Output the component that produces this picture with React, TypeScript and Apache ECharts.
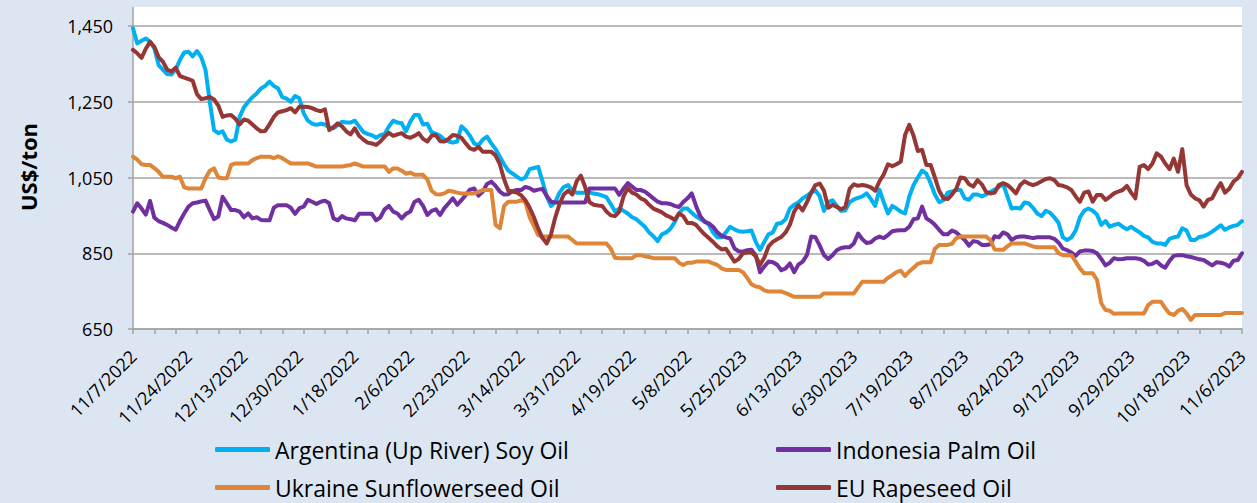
import React, { useEffect, useRef } from "react";
import * as echarts from "echarts";

// Business-day categories from 11/7/2022 to 11/6/2023
const categories: string[] = [];
{
  const d = new Date(2022, 10, 7);
  while (categories.length < 261) {
    const wd = d.getDay();
    if (wd !== 0 && wd !== 6) categories.push(`${d.getMonth() + 1}/${d.getDate()}/${d.getFullYear()}`);
    d.setDate(d.getDate() + 1);
  }
}

const tickLabels = [
  "11/7/2022", "11/24/2022", "12/13/2022", "12/30/2022", "1/18/2022", "2/6/2022", "2/23/2022",
  "3/14/2022", "3/31/2022", "4/19/2022", "5/8/2022", "5/25/2023", "6/13/2023", "6/30/2023",
  "7/19/2023", "8/7/2023", "8/24/2023", "9/12/2023", "9/29/2023", "10/18/2023", "11/6/2023",
];

const seriesNames = [
  "Argentina (Up River) Soy Oil",
  "Indonesia Palm Oil",
  "Ukraine Sunflowerseed Oil",
  "EU Rapeseed Oil",
];

const argentina = [
  1444, 1404, 1411, 1417, 1409, 1391, 1347, 1335, 1323, 1322,
  1335, 1360, 1380, 1382, 1370, 1384, 1368, 1334, 1250, 1175,
  1167, 1172, 1150, 1145, 1150, 1210, 1235, 1250, 1262, 1272,
  1285, 1292, 1303, 1292, 1285, 1262, 1258, 1250, 1265, 1259,
  1220, 1200, 1192, 1189, 1192, 1190, 1182, 1180, 1188, 1197,
  1195, 1195, 1200, 1185, 1170, 1165, 1162, 1155, 1162, 1165,
  1185, 1200, 1195, 1193, 1172, 1197, 1215, 1215, 1190, 1192,
  1170, 1165, 1160, 1150, 1145, 1142, 1145, 1185, 1175, 1160,
  1140, 1135, 1150, 1158, 1140, 1125, 1105, 1085, 1068, 1060,
  1052, 1045, 1050, 1072, 1075, 1078, 1040, 1000, 975, 985,
  1010, 1025, 1030, 1015, 1010, 1010, 1010, 1010, 1008, 1006,
  1002, 998, 980, 960, 968, 962, 955, 945, 940, 930,
  920, 905, 895, 882, 900, 905, 915, 932, 955, 968,
  968, 957, 947, 940, 935, 925, 905, 892, 892, 905,
  920, 913, 908, 907, 908, 910, 880, 859, 880, 900,
  905, 928, 930, 940, 968, 978, 984, 995, 1002, 1010,
  1016, 1000, 962, 985, 990, 975, 962, 963, 985, 992,
  996, 1000, 1008, 993, 975, 1018, 985, 955, 975, 968,
  960, 955, 1000, 1030, 1050, 1068, 1060, 1035, 1005, 985,
  990, 1010, 1013, 1017, 1017, 995, 991, 1005, 1005, 1000,
  1005, 1012, 1018, 1025, 1033, 1000, 968, 970, 968, 984,
  982, 970, 955, 948, 962, 957, 945, 930, 892, 885,
  892, 910, 945, 962, 968, 962, 952, 925, 935, 920,
  925, 928, 920, 913, 920, 912, 905, 896, 892, 880,
  876, 876, 872, 888, 892, 894, 916, 910, 885, 885,
  893, 895, 900, 907, 915, 924, 912, 918, 922, 925,
  935,
];

const indonesia = [
  960, 982, 968, 952, 988, 944, 935, 930, 925, 918,
  912, 935, 955, 973, 982, 984, 987, 989, 964, 940,
  947, 999, 982, 964, 964, 960, 945, 955, 942, 945,
  938, 937, 937, 970, 977, 977, 977, 970, 954, 969,
  973, 991, 986, 980, 986, 989, 982, 942, 937, 948,
  942, 940, 937, 954, 954, 954, 954, 937, 945, 966,
  975, 960, 955, 942, 954, 960, 986, 991, 975, 951,
  962, 966, 951, 969, 982, 995, 978, 990, 1004, 1018,
  1021, 1002, 1013, 1033, 1039, 1028, 1013, 1005, 1006, 1014,
  1017, 1017, 1025, 1022, 1015, 1018, 1020, 1001, 986, 984,
  984, 984, 984, 984, 984, 984, 984, 1021, 1021, 1021,
  1021, 1021, 1021, 1021, 1004, 1021, 1035, 1026, 1017, 1017,
  1013, 1004, 995, 986, 982, 982, 980, 975, 972, 985,
  995, 1008, 975, 948, 933, 929, 920, 905, 896, 892,
  889, 863, 855, 854, 858, 859, 845, 800, 815, 828,
  826, 820, 805, 810, 823, 800, 820, 828, 845, 894,
  892, 870, 845, 835, 845, 858, 864, 866, 866, 876,
  902, 887, 877, 879, 889, 894, 890, 898, 908, 910,
  911, 911, 920, 940, 942, 973, 942, 935, 925, 912,
  900, 900, 910, 905, 895, 885, 870, 882, 880, 872,
  872, 874, 895, 892, 905, 900, 885, 892, 894, 894,
  892, 890, 892, 892, 892, 892, 888, 878, 862, 858,
  852, 843, 855, 857, 857, 856, 850, 835, 818, 825,
  837, 834, 835, 837, 837, 837, 835, 830, 820, 822,
  828, 818, 812, 830, 843, 845, 845, 842, 840, 837,
  834, 832, 825, 818, 826, 825, 822, 815, 830, 832,
  850,
];

const ukraine = [
  1105, 1097, 1085, 1083, 1083, 1075, 1065, 1052, 1052, 1052,
  1048, 1052, 1024, 1021, 1021, 1021, 1021, 1048, 1068, 1074,
  1050, 1048, 1048, 1083, 1087, 1087, 1087, 1087, 1096, 1101,
  1105, 1105, 1105, 1101, 1106, 1101, 1094, 1087, 1087, 1087,
  1087, 1087, 1083, 1079, 1079, 1079, 1079, 1079, 1079, 1079,
  1081, 1083, 1087, 1083, 1079, 1079, 1079, 1079, 1079, 1079,
  1065, 1074, 1074, 1068, 1060, 1063, 1057, 1057, 1057, 1045,
  1015, 1006, 1005, 1008, 1015, 1013, 1010, 1008, 1008, 1008,
  1008, 1012, 1017, 1017, 1017, 925, 916, 975, 986, 986,
  986, 990, 985, 945, 922, 898, 894, 894, 894, 894,
  894, 894, 894, 885, 876, 876, 876, 876, 876, 876,
  876, 876, 862, 838, 837, 837, 837, 837, 845, 845,
  842, 840, 837, 837, 837, 837, 837, 837, 825, 819,
  825, 825, 828, 828, 828, 828, 823, 819, 810, 806,
  806, 806, 806, 800, 785, 768, 762, 760, 752, 749,
  749, 749, 749, 745, 740, 735, 735, 735, 735, 735,
  735, 735, 744, 744, 744, 744, 744, 744, 744, 744,
  760, 775, 775, 775, 775, 775, 775, 785, 792, 800,
  804, 790, 802, 812, 822, 826, 826, 826, 862, 872,
  872, 872, 875, 890, 894, 894, 894, 894, 894, 894,
  894, 885, 860, 859, 859, 868, 876, 876, 876, 876,
  872, 868, 866, 866, 866, 866, 866, 850, 845, 845,
  845, 828, 810, 797, 797, 797, 780, 718, 700, 698,
  690, 691, 691, 691, 691, 691, 691, 691, 713, 722,
  722, 722, 705, 691, 687, 698, 703, 691, 674, 687,
  687, 687, 687, 687, 687, 687, 692, 692, 692, 692,
  692,
];

const eu = [
  1387, 1378, 1366, 1390, 1408, 1395, 1368, 1356, 1335, 1330,
  1340, 1318, 1314, 1310, 1305, 1270, 1257, 1259, 1263, 1256,
  1240, 1210, 1214, 1215, 1205, 1190, 1203, 1200, 1190, 1180,
  1172, 1173, 1190, 1210, 1222, 1225, 1228, 1233, 1222, 1237,
  1237, 1236, 1233, 1228, 1225, 1230, 1175, 1183, 1193, 1185,
  1172, 1164, 1180, 1160, 1150, 1142, 1140, 1136, 1145, 1158,
  1168, 1160, 1164, 1167, 1158, 1155, 1160, 1167, 1152, 1145,
  1160, 1162, 1146, 1145, 1152, 1162, 1160, 1155, 1140, 1127,
  1123, 1131, 1118, 1118, 1118, 1108, 1085, 1045, 1015, 1013,
  1010, 1003, 990, 970, 945, 915, 890, 876, 900, 945,
  980, 1005, 1015, 1005, 1040, 1055, 1025, 985, 978, 976,
  975, 960, 950, 948, 960, 1000, 1022, 1010, 1005, 995,
  990, 978, 968, 963, 958, 950, 945, 938, 955, 948,
  930, 930, 925, 912, 900, 890, 880, 868, 860, 862,
  845, 828, 835, 850, 852, 852, 842, 819, 838, 868,
  880, 887, 893, 905, 925, 960, 977, 963, 985, 1010,
  1030, 1034, 1015, 970, 978, 972, 966, 972, 1020, 1032,
  1028, 1030, 1028, 1024, 1015, 1040, 1058, 1085, 1080, 1085,
  1092, 1162, 1189, 1160, 1120, 1123, 1083, 1083, 1050, 1015,
  995, 993, 1005, 1020, 1050, 1048, 1032, 1026, 1043, 1032,
  1012, 1008, 1010, 1030, 1035, 1030, 1020, 1008, 1030, 1040,
  1034, 1030, 1034, 1040, 1046, 1048, 1043, 1030, 1028, 1024,
  1017, 1000, 986, 1010, 1013, 986, 1004, 1004, 991, 999,
  1008, 1013, 1017, 1028, 1010, 995, 1078, 1083, 1072, 1087,
  1114, 1105, 1087, 1072, 1100, 1065, 1125, 1030, 1005, 995,
  990, 973, 991, 995, 1017, 1035, 1010, 1020, 1039, 1048,
  1065,
];

const seriesData = [argentina, indonesia, ukraine, eu];
const seriesColors = ["#00b0f0", "#7030a0", "#de8538", "#953735"];

const FONT = '"Open Sans", "Liberation Sans", sans-serif';
const GRID_GRAY = "#a3a3a3";

export default function App() {
  const ref = useRef<HTMLDivElement>(null);

  useEffect(() => {
    if (!ref.current) return;
    const chart = echarts.init(ref.current, undefined, { renderer: "svg" });

    const legendPos = [
      { left: 215, top: 438 },
      { left: 776, top: 438 },
      { left: 215, top: 476 },
      { left: 776, top: 476 },
    ];

    chart.setOption({
      animation: false,
      backgroundColor: "#dce6f2",
      textStyle: { fontFamily: FONT },
      graphic: [
        {
          type: "rect",
          z: -10,
          silent: true,
          shape: { x: 133, y: 7, width: 1109, height: 322 },
          style: { fill: "#ffffff" },
        },
        {
          type: "line",
          silent: true,
          shape: { x1: 133, y1: 7, x2: 133, y2: 27 },
          style: { stroke: GRID_GRAY, lineWidth: 1.5 },
        },
        {
          type: "text",
          x: 28,
          y: 167,
          rotation: Math.PI / 2,
          style: {
            text: "US$/ton",
            font: `bold 22px ${FONT}`,
            fill: "#000000",
            textAlign: "center",
            textVerticalAlign: "middle",
          },
        },
      ],
      grid: { left: 133, right: 15, top: 26, bottom: 174, containLabel: false },
      legend: seriesNames.map((name, i) => ({
        data: [name],
        left: legendPos[i].left,
        top: legendPos[i].top,
        padding: 0,
        icon: "roundRect",
        itemWidth: 55,
        itemHeight: 5,
        itemGap: 0,
        selectedMode: false,
        textStyle: { fontSize: 23, color: "#000000", fontFamily: FONT },
      })),
      xAxis: {
        type: "category",
        data: categories,
        boundaryGap: false,
        axisLine: { lineStyle: { color: GRID_GRAY, width: 1.5 } },
        axisTick: { interval: 4, length: 5, lineStyle: { color: GRID_GRAY, width: 1.5 } },
        axisLabel: {
          interval: 12,
          rotate: 45,
          margin: 24,
          fontSize: 18,
          color: "#000000",
          fontFamily: FONT,
          formatter: (_v: string, idx: number) => tickLabels[idx / 13] ?? "",
        },
        splitLine: { show: false },
      },
      yAxis: {
        type: "value",
        min: 650,
        max: 1450,
        interval: 200,
        axisLine: { show: true, lineStyle: { color: GRID_GRAY, width: 1.5 } },
        axisTick: { show: true, length: 5, lineStyle: { color: GRID_GRAY, width: 1.5 } },
        axisLabel: {
          margin: 20,
          fontSize: 18,
          color: "#000000",
          fontFamily: FONT,
          formatter: (v: number) => v.toLocaleString("en-US"),
        },
        splitLine: { lineStyle: { color: GRID_GRAY, width: 1.5 } },
      },
      series: seriesNames.map((name, i) => ({
        name,
        type: "line",
        data: seriesData[i],
        symbol: "none",
        showSymbol: false,
        color: seriesColors[i],
        lineStyle: { width: 4, color: seriesColors[i], cap: "round", join: "round" },
        z: 2 + i,
      })),
    });

    return () => chart.dispose();
  }, []);

  return (
    <div
      ref={ref}
      style={{ position: "fixed", left: 0, top: 0, width: 1257, height: 503 }}
    />
  );
}
